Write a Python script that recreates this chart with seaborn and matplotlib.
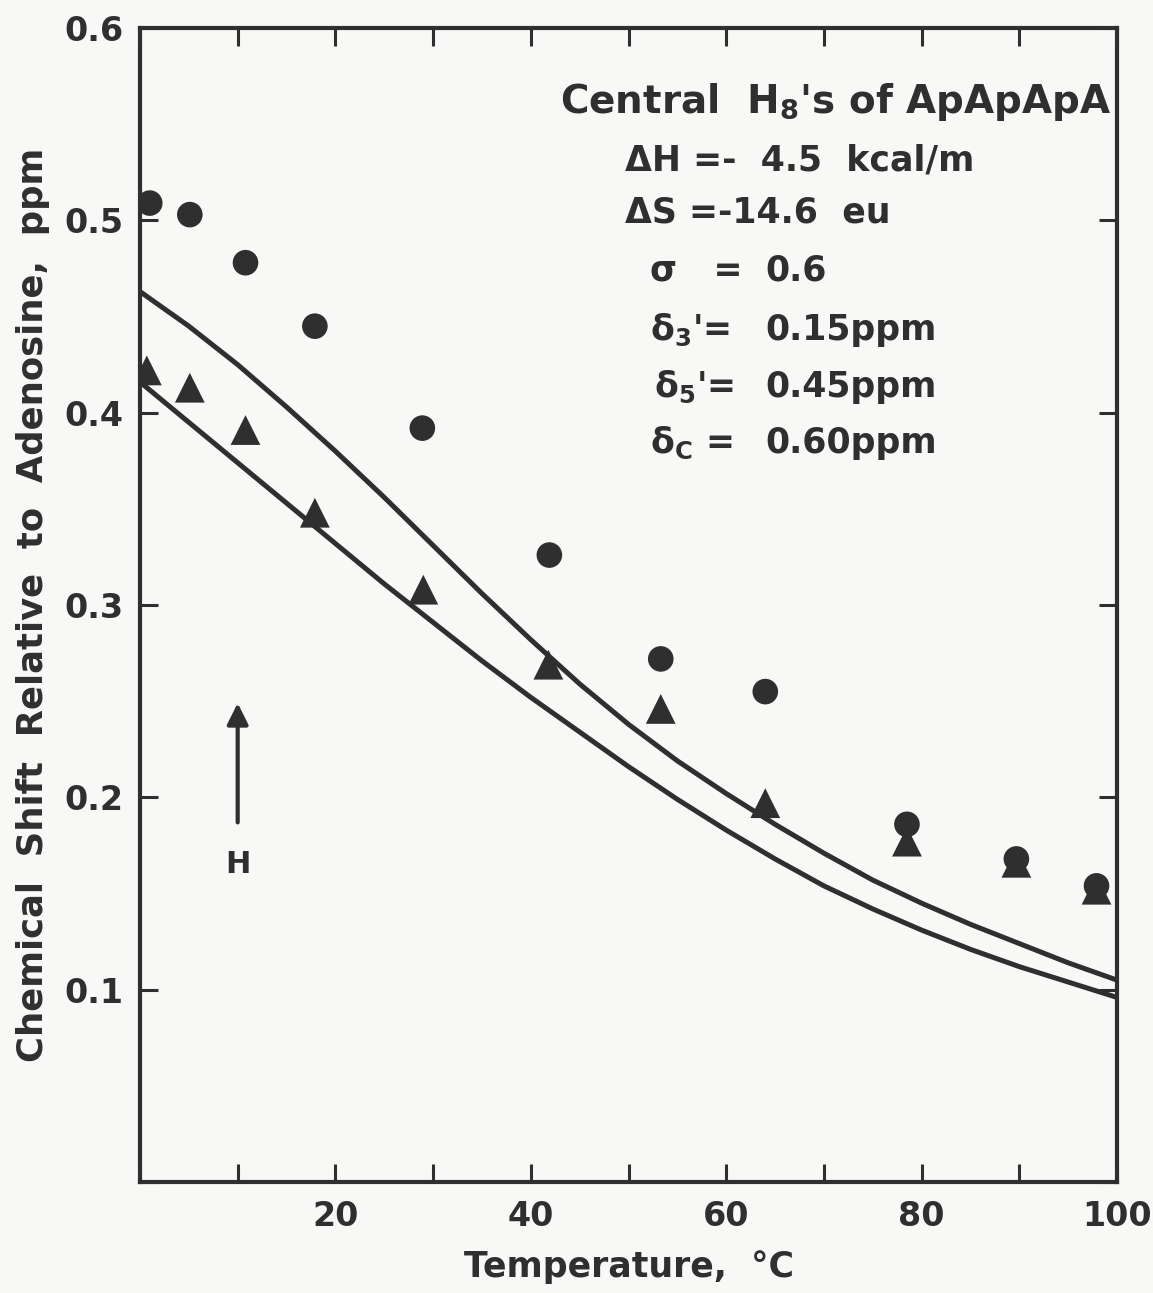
import numpy as np
import pandas as pd
import matplotlib
matplotlib.use('Agg')
import matplotlib.pyplot as plt
import seaborn as sns

temp_circles = [1.0, 5.1, 10.8, 17.9, 28.9, 41.9, 53.3, 64.0, 78.5, 89.7, 97.9]
shift_circles = [0.509, 0.503, 0.478, 0.445, 0.392, 0.326, 0.272, 0.255, 0.186, 0.168, 0.154]

temp_triangles = [0.7, 5.1, 10.8, 17.9, 29.0, 41.8, 53.3, 64.0, 78.5, 89.7, 97.9]
shift_triangles = [0.422, 0.413, 0.391, 0.348, 0.308, 0.269, 0.246, 0.197, 0.177, 0.166, 0.152]

# calculated curves
curve_temp = [0, 5, 10, 15, 20, 25, 30, 35, 40, 45, 50, 55, 60, 65, 70, 75, 80, 85, 90, 95, 100]
curve_upper = [0.463, 0.445, 0.425, 0.403, 0.380, 0.356, 0.331, 0.306, 0.282, 0.259, 0.238,
               0.219, 0.202, 0.186, 0.171, 0.157, 0.145, 0.134, 0.124, 0.114, 0.105]
curve_lower = [0.416, 0.395, 0.374, 0.353, 0.332, 0.311, 0.291, 0.271, 0.252, 0.234, 0.216,
               0.199, 0.183, 0.168, 0.154, 0.142, 0.131, 0.121, 0.112, 0.104, 0.096]

x_ticks = [0, 10, 20, 30, 40, 50, 60, 70, 80, 90, 100]
x_labels = ['', '', '20', '', '40', '', '60', '', '80', '', '100']
y_ticks = [0.0, 0.1, 0.2, 0.3, 0.4, 0.5, 0.6]
y_labels = ['', '0.1', '0.2', '0.3', '0.4', '0.5', '0.6']

ink = '#2f2f2f'
paper = '#f8f8f6'

sns.set_theme(style='ticks')
plt.rcParams['font.family'] = ['DejaVu Sans']
plt.rcParams['font.weight'] = 'bold'
plt.rcParams['axes.labelweight'] = 'bold'
plt.rcParams['mathtext.fontset'] = 'custom'
plt.rcParams['mathtext.rm'] = 'DejaVu Sans:bold'
plt.rcParams['mathtext.it'] = 'DejaVu Sans:bold'
plt.rcParams['mathtext.bf'] = 'DejaVu Sans:bold'
plt.rcParams['mathtext.default'] = 'regular'

fig = plt.figure(figsize=(11.53, 12.93), dpi=100, facecolor=paper)
ax = fig.add_axes([0.1214, 0.0858, 0.8474, 0.8925], facecolor=paper)

df_curves = pd.DataFrame({'T': curve_temp, 'upper': curve_upper, 'lower': curve_lower})
sns.lineplot(data=df_curves, x='T', y='upper', ax=ax, color=ink, lw=3.6)
sns.lineplot(data=df_curves, x='T', y='lower', ax=ax, color=ink, lw=3.6)

df_circ = pd.DataFrame({'T': temp_circles, 'shift': shift_circles})
df_tri = pd.DataFrame({'T': temp_triangles, 'shift': shift_triangles})
sns.scatterplot(data=df_circ, x='T', y='shift', ax=ax, marker='o', s=340,
                color=ink, edgecolor='none', zorder=5)
sns.scatterplot(data=df_tri, x='T', y='shift', ax=ax, marker='^', s=460,
                color=ink, edgecolor='none', zorder=6)

ax.set_xlim(0, 100)
ax.set_ylim(0, 0.6)
ax.set_xticks(x_ticks)
ax.set_xticklabels(x_labels)
ax.set_yticks(y_ticks)
ax.set_yticklabels(y_labels)
ax.tick_params(direction='in', length=13, width=2.2, top=True, right=True,
               labelsize=24, colors=ink)
ax.tick_params(axis='x', pad=13)
ax.tick_params(axis='y', pad=12)
for sp in ax.spines.values():
    sp.set_linewidth(3)
    sp.set_color(ink)

ax.set_xlabel('Temperature,  °C', fontsize=25, color=ink, labelpad=12)
ax.set_ylabel('Chemical  Shift  Relative  to  Adenosine,  ppm', fontsize=25.5,
              color=ink, labelpad=10)

# annotation block
ax.text(43.0, 0.556, r"Central  H$_8$'s of ApApApA", fontsize=28, color=ink,
        va='baseline', ha='left')
ax.text(49.6, 0.526, 'ΔH =-  4.5  kcal/m', fontsize=25, color=ink, va='baseline')
ax.text(49.6, 0.4987, 'ΔS =-14.6  eu', fontsize=25, color=ink, va='baseline')
ax.text(52.2, 0.4685, 'σ   =', fontsize=25, color=ink, va='baseline')
ax.text(52.2, 0.438, r"δ$_{3}$'=", fontsize=25, color=ink, va='baseline')
ax.text(52.6, 0.408, r"δ$_{5}$'=", fontsize=25, color=ink, va='baseline')
ax.text(52.2, 0.379, r"δ$_{C}$ =", fontsize=25, color=ink, va='baseline')
ax.text(64.0, 0.4685, '0.6', fontsize=25, color=ink, va='baseline')
ax.text(64.0, 0.438, '0.15ppm', fontsize=25, color=ink, va='baseline')
ax.text(64.0, 0.408, '0.45ppm', fontsize=25, color=ink, va='baseline')
ax.text(64.0, 0.379, '0.60ppm', fontsize=25, color=ink, va='baseline')

ax.annotate('', xy=(10, 0.249), xytext=(10, 0.187),
            arrowprops=dict(arrowstyle='-|>', lw=3, color=ink, mutation_scale=32,
                            shrinkA=0, shrinkB=0))
ax.text(10, 0.165, 'H', fontsize=22, color=ink, ha='center', va='center')

fig.savefig('out.png', dpi=100, facecolor=paper)
